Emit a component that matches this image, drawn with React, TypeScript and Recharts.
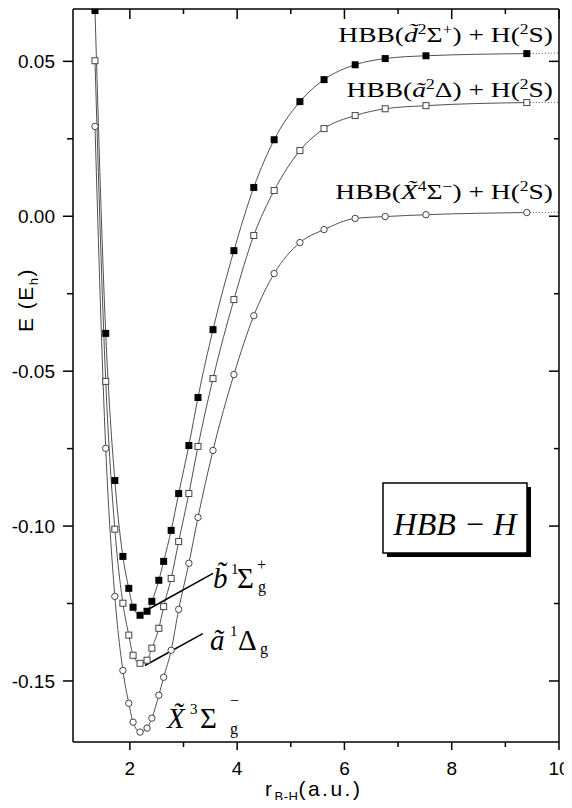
import React from "react"
import { ComposedChart, Line, XAxis, YAxis, ReferenceLine } from "recharts"

// keep the page from growing scrollbars over the right and bottom edges
if (typeof document !== "undefined") {
  document.documentElement.style.overflow = "hidden"
  document.body.style.overflow = "hidden"
}

// B-H distance grid (a.u.), shared by the three curves
const rGrid = [1.35, 1.55, 1.72, 1.87, 1.98, 2.06, 2.19, 2.32, 2.41, 2.54, 2.63, 2.77, 2.91, 3.1, 3.27, 3.55, 3.94, 4.31, 4.69, 5.17, 5.62, 6.2, 6.76, 7.52, 9.4]

// energies (Eh)
const energyB = [0.0664, -0.0378, -0.0853, -0.1098, -0.1201, -0.1262, -0.1288, -0.1275, -0.1243, -0.1175, -0.1114, -0.1014, -0.0895, -0.074, -0.0585, -0.0366, -0.0111, 0.0093, 0.0247, 0.037, 0.0441, 0.0489, 0.0509, 0.0518, 0.0525]
const energyA = [0.0502, -0.0533, -0.101, -0.1249, -0.1352, -0.1417, -0.1443, -0.1433, -0.1394, -0.133, -0.126, -0.1169, -0.105, -0.0895, -0.0743, -0.0524, -0.0269, -0.0062, 0.0083, 0.0212, 0.0283, 0.0325, 0.0347, 0.0357, 0.0367]
const energyX = [0.029, -0.0749, -0.1227, -0.1466, -0.1572, -0.1633, -0.1665, -0.1652, -0.162, -0.1546, -0.1488, -0.1401, -0.1269, -0.112, -0.0972, -0.0756, -0.0511, -0.0321, -0.0185, -0.0085, -0.0043, -0.0007, -0.0001, 0.0005, 0.0012]

// dotted continuation to the right frame
const rTail = [9.4, 10]
const tailB = [0.0525, 0.0527]
const tailA = [0.0367, 0.0368]
const tailX = [0.0012, 0.0013]

const xTicks = [2, 3, 4, 5, 6, 7, 8, 9, 10]
const yTicks = [-0.15, -0.125, -0.1, -0.075, -0.05, -0.025, 0, 0.025, 0.05]

const xDomain = [0.94, 10]
const yDomain = [-0.1697, 0.0669]

const toPoints = (xs: number[], ys: number[]) => xs.map((x, i) => ({ x, y: ys[i] }))

const dataB = toPoints(rGrid, energyB)
const dataA = toPoints(rGrid, energyA)
const dataX = toPoints(rGrid, energyX)

const SANS = "'Liberation Sans', Arial, sans-serif"
const SERIF = "'Liberation Serif', 'Times New Roman', serif"
const LINE = "#505050"

const isMajorX = (v: number) => v % 2 === 0
const isMajorY = (v: number) => Math.abs(v * 20 - Math.round(v * 20)) < 1e-6

const BottomTick = ({ x, y, payload }: any) => {
  const major = isMajorX(payload.value)
  return (
    <g>
      <line x1={x} y1={y} x2={x} y2={y + (major ? 8 : 5)} stroke="#000" strokeWidth={1.5} />
      {major && (
        <text x={x} y={y + 33} textAnchor="middle" fontFamily={SANS} fontSize={19} fill="#000">
          {payload.value}
        </text>
      )}
    </g>
  )
}

const TopTick = ({ x, y, payload }: any) => {
  const major = isMajorX(payload.value)
  return <line x1={x} y1={y} x2={x} y2={y + (major ? 10 : 5)} stroke="#000" strokeWidth={1.5} />
}

const LeftTick = ({ x, y, payload }: any) => {
  const major = isMajorY(payload.value)
  return (
    <g>
      <line x1={x} y1={y} x2={x - (major ? 10 : 6)} y2={y} stroke="#000" strokeWidth={1.5} />
      {major && (
        <text x={x - 18} y={y} dy="0.35em" textAnchor="end" fontFamily={SANS} fontSize={19} fill="#000">
          {payload.value.toFixed(2)}
        </text>
      )}
    </g>
  )
}

const RightTick = ({ x, y, payload }: any) => {
  const major = isMajorY(payload.value)
  return <line x1={x} y1={y} x2={x - (major ? 10 : 5)} y2={y} stroke="#000" strokeWidth={1.5} />
}

const FilledSquare = ({ cx, cy, index }: any) => (
  <rect key={`fs-${index}`} x={cx - 3.5} y={cy - 3.5} width={7} height={7} fill="#000" />
)

const OpenSquare = ({ cx, cy, index }: any) => (
  <rect key={`os-${index}`} x={cx - 3} y={cy - 3} width={6} height={6} fill="#fff" stroke="#444" strokeWidth={1} />
)

const OpenCircle = ({ cx, cy, index }: any) => (
  <circle key={`oc-${index}`} cx={cx} cy={cy} r={3.2} fill="#fff" stroke="#444" strokeWidth={1} />
)

const SUP = 14
const UP = 8

export default function App() {
  return (
    <div style={{ position: "relative", width: 564, height: 800, marginBottom: -8 }}>
      <ComposedChart width={564} height={800} margin={{ top: 0, right: 0, bottom: 0, left: 0 }}>
        <XAxis
          dataKey="x"
          type="number"
          domain={xDomain}
          allowDataOverflow
          ticks={xTicks}
          interval={0}
          height={66}
          tickSize={0}
          tickMargin={0}
          tickLine={false}
          tick={(p: any) => <BottomTick {...p} />}
          axisLine={{ stroke: "#000", strokeWidth: 1.5 }}
        />
        <XAxis
          xAxisId="top"
          orientation="top"
          dataKey="x"
          type="number"
          domain={xDomain}
          allowDataOverflow
          ticks={xTicks}
          interval={0}
          height={1}
          tickSize={0}
          tickMargin={0}
          tickLine={false}
          tick={(p: any) => <TopTick {...p} />}
          axisLine={{ stroke: "#000", strokeWidth: 1.5 }}
        />
        <YAxis
          type="number"
          domain={yDomain}
          allowDataOverflow
          ticks={yTicks}
          interval={0}
          width={65}
          tickSize={0}
          tickMargin={0}
          tickLine={false}
          tick={(p: any) => <LeftTick {...p} />}
          axisLine={{ stroke: "#000", strokeWidth: 1.5 }}
        />
        <YAxis
          yAxisId="right"
          orientation="right"
          type="number"
          domain={yDomain}
          allowDataOverflow
          ticks={yTicks}
          interval={0}
          width={13}
          tickSize={0}
          tickMargin={0}
          tickLine={false}
          tick={(p: any) => <RightTick {...p} />}
          axisLine={{ stroke: "#000", strokeWidth: 1.5 }}
        />

        <Line data={toPoints(rTail, tailB)} dataKey="y" type="linear" stroke={LINE} strokeWidth={1} strokeDasharray="1 2" dot={false} activeDot={false} isAnimationActive={false} />
        <Line data={toPoints(rTail, tailA)} dataKey="y" type="linear" stroke={LINE} strokeWidth={1} strokeDasharray="1 2" dot={false} activeDot={false} isAnimationActive={false} />
        <Line data={toPoints(rTail, tailX)} dataKey="y" type="linear" stroke={LINE} strokeWidth={1} strokeDasharray="1 2" dot={false} activeDot={false} isAnimationActive={false} />

        <Line data={dataX} dataKey="y" type="monotone" stroke={LINE} strokeWidth={1} dot={OpenCircle} activeDot={false} isAnimationActive={false} />
        <Line data={dataA} dataKey="y" type="monotone" stroke={LINE} strokeWidth={1} dot={OpenSquare} activeDot={false} isAnimationActive={false} />
        <Line data={dataB} dataKey="y" type="monotone" stroke={LINE} strokeWidth={1} dot={FilledSquare} activeDot={false} isAnimationActive={false} />

        {/* leader lines to the state labels */}
        <ReferenceLine segment={[{ x: 2.37, y: -0.1266 }, { x: 3.55, y: -0.1153 }]} stroke="#000" strokeWidth={1.5} />
        <ReferenceLine segment={[{ x: 2.28, y: -0.145 }, { x: 3.36, y: -0.1347 }]} stroke="#000" strokeWidth={1.5} />
      </ComposedChart>

      <svg width={564} height={800} style={{ position: "absolute", left: 0, top: 0, pointerEvents: "none" }}>
        {/* axis titles */}
        <text transform="translate(25,292) rotate(-90)" textAnchor="middle" fontFamily={SANS} fontSize={21} letterSpacing={1.5} fill="#000">
          E (E<tspan fontSize={13} dy={5}>h</tspan><tspan dy={-5}>)</tspan>
        </text>
        <text x={257} y={788} fontFamily={SANS} fontSize={21} letterSpacing={2.5} fill="#000">
          r<tspan fontSize={13} letterSpacing={0.5} dy={5}>B-H</tspan><tspan dy={-5}>(a.u.)</tspan>
        </text>

        {/* asymptote labels */}
        <g fontFamily={SERIF} fontSize={22} fill="#000">
          <text transform="translate(545,34) scale(1.25,1)" textAnchor="end">
            HBB(<tspan fontStyle="italic">d̃</tspan>
            <tspan fontSize={SUP} dy={-UP}>2</tspan>
            <tspan dy={UP}>Σ</tspan>
            <tspan fontSize={SUP} dy={-UP}>+</tspan>
            <tspan dy={UP}>) + H(</tspan>
            <tspan fontSize={SUP} dy={-UP}>2</tspan>
            <tspan dy={UP}>S)</tspan>
          </text>
          <text transform="translate(545,89) scale(1.25,1)" textAnchor="end">
            HBB(<tspan fontStyle="italic">ã</tspan>
            <tspan fontSize={SUP} dy={-UP}>2</tspan>
            <tspan dy={UP}>Δ) + H(</tspan>
            <tspan fontSize={SUP} dy={-UP}>2</tspan>
            <tspan dy={UP}>S)</tspan>
          </text>
          <text transform="translate(545,191) scale(1.25,1)" textAnchor="end">
            HBB(<tspan fontStyle="italic">X̃</tspan>
            <tspan fontSize={SUP} dy={-UP}>4</tspan>
            <tspan dy={UP}>Σ</tspan>
            <tspan fontSize={SUP} dy={-UP}>−</tspan>
            <tspan dy={UP}>) + H(</tspan>
            <tspan fontSize={SUP} dy={-UP}>2</tspan>
            <tspan dy={UP}>S)</tspan>
          </text>
        </g>

        {/* state labels */}
        <g fontFamily={SERIF} fill="#000">
          <text x={205} y={580} fontSize={29} fontStyle="italic">b̃</text>
          <text x={223} y={566} fontSize={15}>1</text>
          <text x={229} y={580} fontSize={29}>Σ</text>
          <text x={249} y={562} fontSize={16}>+</text>
          <text x={250} y={584} fontSize={16}>g</text>

          <text x={202} y={642} fontSize={29} fontStyle="italic">ã</text>
          <text x={222} y={628} fontSize={15}>1</text>
          <text x={230} y={642} fontSize={29}>Δ</text>
          <text x={252} y={646} fontSize={16}>g</text>

          <text x={159} y={720} fontSize={29} fontStyle="italic">X̃</text>
          <text x={182} y={706} fontSize={15}>3</text>
          <text x={192} y={720} fontSize={29}>Σ</text>
          <text x={222} y={698} fontSize={16}>−</text>
          <text x={222} y={726} fontSize={16}>g</text>
        </g>

        {/* HBB - H box with shadow */}
        <rect x={379} y={479} width={144} height={70} fill="#000" />
        <rect x={375} y={475} width={144} height={70} fill="#fff" stroke="#000" strokeWidth={1.5} />
        <text x={447} y={527} textAnchor="middle" fontFamily={SERIF} fontSize={32} fontStyle="italic" fill="#000">
          HBB − H
        </text>
      </svg>
    </div>
  )
}
